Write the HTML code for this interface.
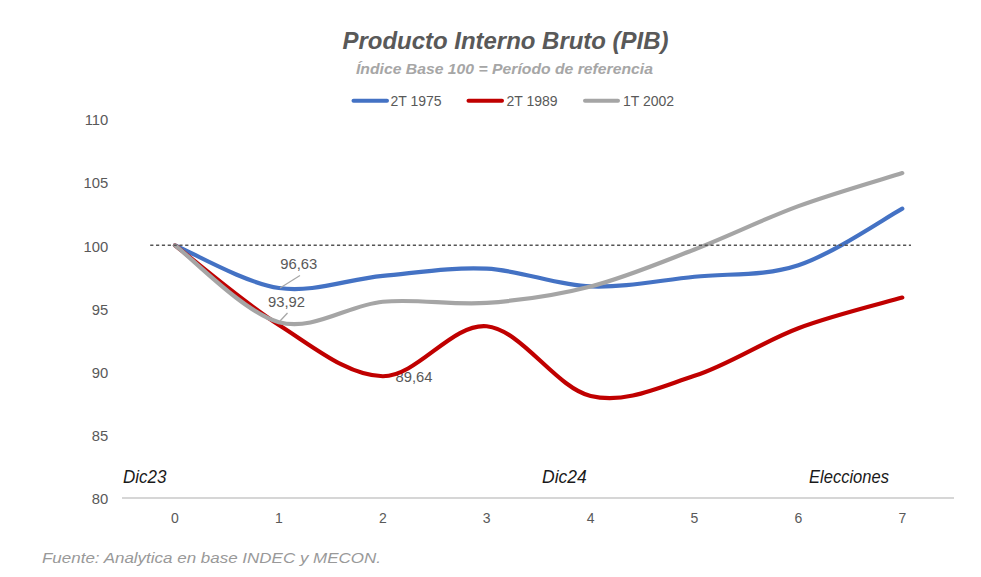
<!DOCTYPE html>
<html><head><meta charset="utf-8"><style>
html,body{margin:0;padding:0;background:#fff;width:981px;height:577px;overflow:hidden}
svg{display:block}
text{font-family:"Liberation Sans", sans-serif}
.tk{font-size:14px;fill:#595959}
.tky{font-size:14.8px;fill:#595959}
.dl{font-size:14.2px;fill:#595959}
</style></head><body>
<svg width="981" height="577" viewBox="0 0 981 577">
<rect width="981" height="577" fill="#fff"/>
<text x="342.5" y="49" font-size="23.4" font-weight="bold" font-style="italic" fill="#595959" textLength="326" lengthAdjust="spacingAndGlyphs">Producto Interno Bruto (PIB)</text>
<text x="356" y="74.2" font-size="15.5" font-weight="bold" font-style="italic" fill="#a6a6a6" textLength="297" lengthAdjust="spacingAndGlyphs">Índice Base 100 = Período de referencia</text>
<g stroke-width="4" stroke-linecap="round">
<line x1="353.5" y1="100.8" x2="387" y2="100.8" stroke="#4472c4"/>
<line x1="468.5" y1="100.8" x2="502" y2="100.8" stroke="#c00000"/>
<line x1="585" y1="100.8" x2="618" y2="100.8" stroke="#a5a5a5"/>
</g>
<text x="390.5" y="105.5" class="tk">2T 1975</text>
<text x="506.5" y="105.5" class="tk">2T 1989</text>
<text x="623" y="105.5" class="tk">1T 2002</text>
<text x="108.3" y="504.1" text-anchor="end" class="tky">80</text>
<text x="108.3" y="441.0" text-anchor="end" class="tky">85</text>
<text x="108.3" y="377.8" text-anchor="end" class="tky">90</text>
<text x="108.3" y="314.7" text-anchor="end" class="tky">95</text>
<text x="108.3" y="251.5" text-anchor="end" class="tky">100</text>
<text x="108.3" y="188.3" text-anchor="end" class="tky">105</text>
<text x="108.3" y="125.2" text-anchor="end" class="tky">110</text>

<text x="175.0" y="523" text-anchor="middle" class="tk">0</text>
<text x="278.9" y="523" text-anchor="middle" class="tk">1</text>
<text x="382.8" y="523" text-anchor="middle" class="tk">2</text>
<text x="486.7" y="523" text-anchor="middle" class="tk">3</text>
<text x="590.6" y="523" text-anchor="middle" class="tk">4</text>
<text x="694.5" y="523" text-anchor="middle" class="tk">5</text>
<text x="798.4" y="523" text-anchor="middle" class="tk">6</text>
<text x="902.3" y="523" text-anchor="middle" class="tk">7</text>

<line x1="122" y1="498" x2="954" y2="498" stroke="#d6d6d6" stroke-width="2"/>
<text x="280.3" y="269.4" class="dl" textLength="37" lengthAdjust="spacingAndGlyphs">96,63</text>
<text x="268" y="307" class="dl" textLength="37" lengthAdjust="spacingAndGlyphs">93,92</text>
<text x="395.5" y="382.3" class="dl" textLength="37" lengthAdjust="spacingAndGlyphs">89,64</text>
<g fill="none" stroke-width="4.2" stroke-linecap="round" stroke-linejoin="round">
<path d="M175.00 245.40 C192.32 252.49 244.27 282.89 278.90 287.96 C313.53 293.04 348.17 279.06 382.80 275.84 C417.43 272.62 452.07 266.87 486.70 268.64 C521.33 270.41 555.97 285.10 590.60 286.45 C625.23 287.79 659.87 280.26 694.50 276.72 C729.13 273.19 763.77 276.58 798.40 265.23 C833.03 253.88 884.98 218.08 902.30 208.65" stroke="#4472c4"/>
<path d="M175.00 245.40 C192.32 258.66 244.27 303.16 278.90 324.97 C313.53 346.78 348.17 376.04 382.80 376.25 C417.43 376.46 452.07 322.95 486.70 326.23 C521.33 329.52 555.97 387.68 590.60 395.95 C625.23 404.22 659.87 387.15 694.50 375.87 C729.13 364.59 763.77 341.30 798.40 328.25 C833.03 315.20 884.98 302.68 902.30 297.56" stroke="#c00000"/>
<path d="M175.00 245.40 C192.32 258.20 244.27 312.80 278.90 322.19 C313.53 331.58 348.17 304.95 382.80 301.73 C417.43 298.51 452.07 305.41 486.70 302.87 C521.33 300.32 555.97 295.35 590.60 286.45 C625.23 277.54 659.87 262.83 694.50 249.44 C729.13 236.05 763.77 218.86 798.40 206.12 C833.03 193.39 884.98 178.55 902.30 173.03" stroke="#a5a5a5"/>
</g>
<g stroke="#a6a6a6" stroke-width="1.2">
<line x1="280" y1="288" x2="300" y2="275.5"/>
<line x1="280" y1="321" x2="287.5" y2="313"/>
</g>
<line x1="150.2" y1="245.3" x2="911" y2="245.3" stroke="#555555" stroke-width="1.4" stroke-dasharray="3.2 2.636"/>
<text x="123" y="483" font-size="17.5" font-style="italic" fill="#1a1a1a" textLength="43.5" lengthAdjust="spacingAndGlyphs">Dic23</text>
<text x="542" y="483" font-size="17.5" font-style="italic" fill="#1a1a1a">Dic24</text>
<text x="809" y="483" font-size="17.5" font-style="italic" fill="#1a1a1a" textLength="80" lengthAdjust="spacingAndGlyphs">Elecciones</text>
<text x="42" y="563" font-size="15.5" font-style="italic" fill="#999" textLength="339" lengthAdjust="spacingAndGlyphs">Fuente: Analytica en base INDEC y MECON.</text>
</svg>
</body></html>
